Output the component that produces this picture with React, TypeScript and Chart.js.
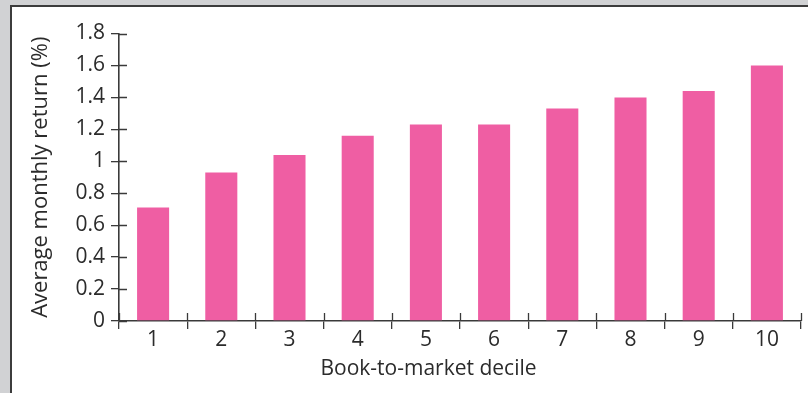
import React, { useEffect, useRef } from "react";
import { Chart, registerables } from "chart.js";

Chart.register(...registerables);

const categories = ["1", "2", "3", "4", "5", "6", "7", "8", "9", "10"];
const returns = [0.71, 0.93, 1.04, 1.16, 1.23, 1.23, 1.33, 1.4, 1.44, 1.6];
const yTickLabels = ["0", "0.2", "0.4", "0.6", "0.8", "1", "1.2", "1.4", "1.6", "1.8"];
const yAxisTitle = "Average monthly return (%)";
const xAxisTitle = "Book-to-market decile";

const BAR_COLOR = "#ef5ea3";
const AXIS_COLOR = "#3a3a3a";
const TEXT_COLOR = "#2b2b2b";
const FONT = '"Open Sans", "Noto Sans", sans-serif';
const FONT_SIZE = 21;

const innerTicks = {
  id: "innerTicks",
  afterDatasetsDraw(chart: any) {
    const { ctx, chartArea, scales } = chart;
    const x = scales.x;
    const y = scales.y;
    ctx.save();
    ctx.strokeStyle = AXIS_COLOR;
    ctx.lineWidth = 1.3;
    ctx.beginPath();
    y.ticks.forEach((_t: any, i: number) => {
      const py = Math.round(y.getPixelForTick(i)) + 0.5;
      ctx.moveTo(chartArea.left, py);
      ctx.lineTo(chartArea.left + 8, py);
    });
    for (let i = 0; i <= categories.length; i++) {
      const px = Math.round(x.getPixelForValue(i - 0.5)) + 0.5;
      ctx.moveTo(px, chartArea.bottom);
      ctx.lineTo(px, chartArea.bottom - 8);
    }
    ctx.stroke();
    ctx.restore();
  },
  afterDraw(chart: any) {
    const { ctx } = chart;
    ctx.save();
    ctx.fillStyle = TEXT_COLOR;
    ctx.font = `${FONT_SIZE}px ${FONT}`;
    ctx.textAlign = "center";
    ctx.textBaseline = "alphabetic";
    ctx.fillText(xAxisTitle, 428.5, 375);
    ctx.restore();
  },
};

export default function App() {
  const ref = useRef<HTMLCanvasElement>(null);

  useEffect(() => {
    if (!ref.current) return;
    const chart = new Chart(ref.current, {
      type: "bar",
      data: {
        labels: categories,
        datasets: [
          {
            data: returns,
            backgroundColor: BAR_COLOR,
            borderWidth: 0,
            barPercentage: 0.47,
            categoryPercentage: 1,
          },
        ],
      },
      options: {
        animation: false,
        responsive: false,
        maintainAspectRatio: false,
        layout: { padding: { left: 0, top: 33.5, right: 7, bottom: 0 } },
        plugins: {
          legend: { display: false },
          tooltip: { enabled: false },
        },
        scales: {
          x: {
            afterFit: (s: any) => {
              s.height = 72;
            },
            grid: {
              display: true,
              drawOnChartArea: false,
              drawTicks: true,
              tickLength: 8,
              color: AXIS_COLOR,
              lineWidth: 1.3,
              offset: true,
            },
            border: { display: true, color: AXIS_COLOR, width: 1.6 },
            ticks: {
              color: TEXT_COLOR,
              font: { family: FONT, size: FONT_SIZE },
              padding: -2,
              maxRotation: 0,
              autoSkip: false,
            },
          },
          y: {
            min: 0,
            max: 1.8,
            afterFit: (s: any) => {
              s.width = 119;
            },
            grid: {
              display: true,
              drawOnChartArea: false,
              drawTicks: true,
              tickLength: 8,
              color: AXIS_COLOR,
              lineWidth: 1.3,
            },
            border: { display: true, color: AXIS_COLOR, width: 1.6 },
            ticks: {
              stepSize: 0.2,
              color: TEXT_COLOR,
              font: { family: FONT, size: FONT_SIZE },
              padding: 6,
              callback: (v: any, i: number) =>
                yTickLabels[i] ?? String(Math.round(Number(v) * 10) / 10),
            },
            title: {
              display: true,
              text: yAxisTitle,
              color: TEXT_COLOR,
              font: { family: FONT, size: 22 },
              padding: { top: 27.8, bottom: 0 },
            },
          },
        },
      },
      plugins: [innerTicks],
    });
    return () => chart.destroy();
  }, []);

  return (
    <div
      style={{
        position: "fixed",
        left: 0,
        top: 0,
        width: 808,
        height: 393,
        background: "#d1d2d4",
        overflow: "hidden",
      }}
    >
      <div
        style={{
          position: "absolute",
          left: 10,
          top: 5,
          right: 0,
          bottom: 0,
          background: "#ffffff",
          borderLeft: "2px solid #3c3c3c",
          borderTop: "2px solid #3c3c3c",
        }}
      />
      <canvas
        ref={ref}
        width={808}
        height={393}
        style={{ position: "absolute", left: 0, top: 0, width: 808, height: 393 }}
      />
    </div>
  );
}
